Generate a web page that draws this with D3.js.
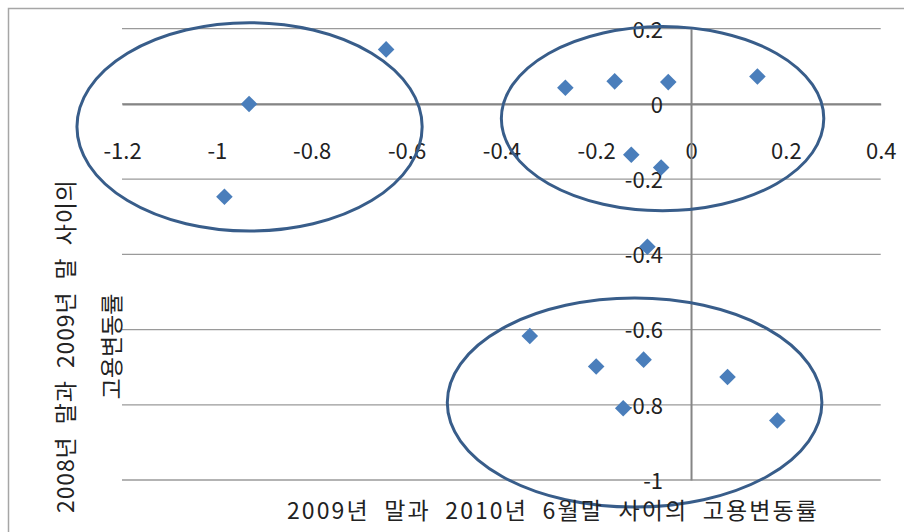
<!DOCTYPE html>
<html>
<head>
<meta charset="utf-8">
<script src="https://cdn.jsdelivr.net/npm/d3@7"></script>
<style>
  html, body { margin: 0; padding: 0; background: #ffffff; }
  svg { display: block; }
  text { font-family: "Noto Sans CJK KR", "Noto Sans", sans-serif; fill: #222; white-space: pre; }
</style>
</head>
<body>
<svg id="chart" width="904" height="532"></svg>
<script>
// Employment change rates by region: x = 2009 end → 2010 June, y = 2008 end → 2009 end
const xValues = [-0.643, -0.932, -0.984, -0.265, -0.161, -0.048, 0.140, -0.126, -0.063, -0.092,
                 -0.340, -0.200, -0.100, -0.143, 0.077, 0.182];
const yValues = [0.145, 0.0, -0.247, 0.043, 0.060, 0.058, 0.073, -0.135, -0.169, -0.380,
                 -0.617, -0.698, -0.680, -0.809, -0.726, -0.842];

const xTicks = [-1.2, -1, -0.8, -0.6, -0.4, -0.2, 0, 0.2, 0.4];
const xTickLabels = ["-1.2", "-1", "-0.8", "-0.6", "-0.4", "-0.2", "0", "0.2", "0.4"];
const yTicks = [0.2, 0, -0.2, -0.4, -0.6, -0.8, -1];
const yTickLabels = ["0.2", "0", "-0.2", "-0.4", "-0.6", "-0.8", "-1"];

// Cluster outlines, in data units: centre x, centre y, radius x, radius y
const groupCx = [-0.931, -0.060, -0.119];
const groupCy = [-0.061, -0.039, -0.794];
const groupRx = [0.364, 0.340, 0.395];
const groupRy = [0.277, 0.245, 0.278];

const xTitle = "2009년  말과  2010년  6월말  사이의  고용변동률";
const yTitleLines = ["2008년  말과  2009년  말  사이의", "고용변동률"];

const svg = d3.select("#chart");
const plot = { left: 122, right: 880.7, top: 28.7, bottom: 480 };

const x = d3.scaleLinear().domain([-1.2, 0.4]).range([plot.left, plot.right]);
const y = d3.scaleLinear().domain([-1, 0.2]).range([plot.bottom, plot.top]);

// chart frame
svg.append("rect")
  .attr("x", 8.5).attr("y", 8.5)
  .attr("width", 1000).attr("height", 1000)
  .attr("fill", "none").attr("stroke", "#a6a6a6").attr("stroke-width", 1.5);

// horizontal gridlines
svg.append("g").selectAll("line").data(yTicks).join("line")
  .attr("x1", plot.left).attr("x2", plot.right)
  .attr("y1", d => y(d)).attr("y2", d => y(d))
  .attr("stroke", "#9a9a9a").attr("stroke-width", 1.3);

// axes crossing at the origin
const fontSize = 22;
const gx = svg.append("g")
  .attr("transform", `translate(0,${y(0)})`)
  .call(d3.axisBottom(x).tickValues(xTicks).tickSize(0).tickPadding(39)
    .tickFormat((d, i) => xTickLabels[i]));
const gy = svg.append("g")
  .attr("transform", `translate(${x(0)},0)`)
  .call(d3.axisLeft(y).tickValues(yTicks).tickSize(0).tickPadding(28)
    .tickFormat((d, i) => yTickLabels[i]));

[gx, gy].forEach(g => {
  g.select(".domain").attr("stroke", "#858585").attr("stroke-width", 2);
  g.selectAll("text")
    .attr("font-size", fontSize)
    .attr("font-family", "\"Noto Sans CJK KR\", sans-serif")
    .attr("fill", "#222");
});
gy.selectAll(".tick text").attr("dy", "0.38em");

// data points
const diamond = d3.symbol().type(d3.symbolDiamond2).size(175);
svg.append("g").selectAll("path").data(xValues).join("path")
  .attr("d", diamond)
  .attr("transform", (d, i) => `translate(${x(d)},${y(yValues[i])})`)
  .attr("fill", "#4a7ebb");

// cluster outlines
svg.append("g").selectAll("ellipse").data(groupCx).join("ellipse")
  .attr("cx", d => x(d))
  .attr("cy", (d, i) => y(groupCy[i]))
  .attr("rx", (d, i) => x(groupRx[i]) - x(0))
  .attr("ry", (d, i) => y(0) - y(groupRy[i]))
  .attr("fill", "none")
  .attr("stroke", "#385d8a")
  .attr("stroke-width", 3);

// axis titles
const titleSize = 23;
svg.append("text")
  .attr("x", 287).attr("y", 509)
  .attr("dominant-baseline", "central")
  .attr("font-size", titleSize)
  .attr("textLength", 530).attr("lengthAdjust", "spacing")
  .text(xTitle);

const yTitleX = [64, 110];
const yTitleLen = [333, null];
yTitleLines.forEach((line, i) => {
  const t = svg.append("text")
    .attr("transform", `translate(${yTitleX[i]},346.5) rotate(-90)`)
    .attr("text-anchor", "middle")
    .attr("dominant-baseline", "central")
    .attr("font-size", titleSize)
    .text(line);
  if (yTitleLen[i]) t.attr("textLength", yTitleLen[i]).attr("lengthAdjust", "spacing");
});
</script>
</body>
</html>
